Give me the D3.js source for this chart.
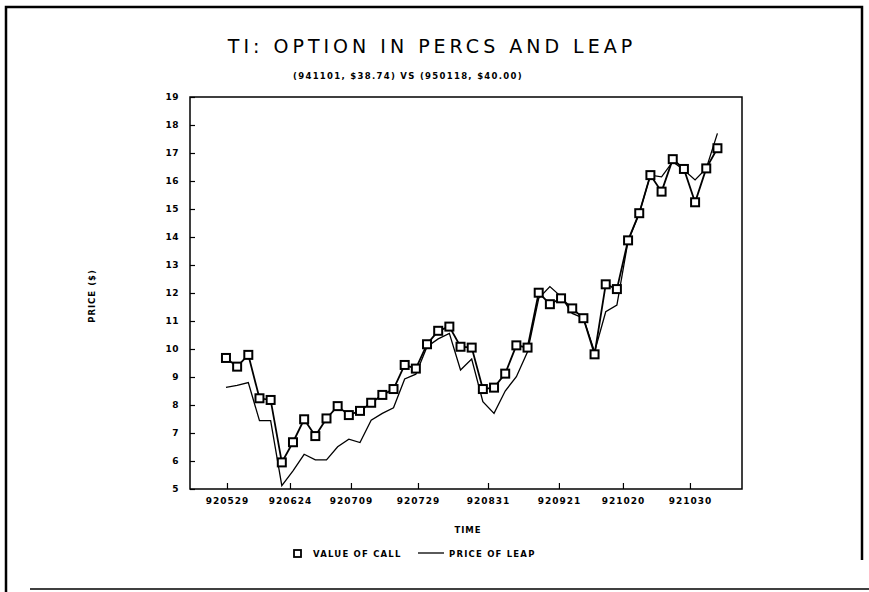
<!DOCTYPE html>
<html><head><meta charset="utf-8">
<script src="https://cdn.jsdelivr.net/npm/d3@7"></script>
<style>body{margin:0;background:#fff}svg{display:block}text{font-family:"DejaVu Sans",sans-serif;fill:#000}</style>
</head><body>
<script>
const callValues = [9.68,9.37,9.79,8.24,8.18,5.95,6.67,7.49,6.89,7.52,7.96,7.64,7.79,8.08,8.36,8.57,9.43,9.30,10.17,10.65,10.80,10.08,10.05,8.57,8.62,9.12,10.13,10.05,12.01,11.60,11.81,11.45,11.10,9.81,12.31,12.14,13.88,14.85,16.21,15.62,16.78,16.43,15.24,16.45,17.17];
const leapValues = [8.63,8.70,8.80,7.44,7.44,5.12,5.65,6.24,6.04,6.04,6.51,6.78,6.66,7.46,7.70,7.90,8.93,9.10,10.08,10.36,10.56,9.25,9.64,8.12,7.70,8.50,9.01,9.90,11.81,12.23,11.87,11.27,11.10,9.90,11.33,11.57,13.86,14.85,16.21,16.15,16.69,16.39,16.04,16.45,17.70];
const xTickPositions = [0.09,5.73,11.19,17.19,23.46,29.81,35.54,41.54];
const xTickLabels = ["920529","920624","920709","920729","920831","920921","921020","921030"];
const yTicks = [5,6,7,8,9,10,11,12,13,14,15,16,17,18,19];

const W=869,H=592;
const svg=d3.select("body").append("svg").attr("width",W).attr("height",H);
// outer frame
svg.append("path").attr("d","M6,592 L6,7 L862,7 L862,560").attr("fill","none").attr("stroke","#000").attr("stroke-width",2.5);
svg.append("line").attr("x1",30).attr("x2",869).attr("y1",589).attr("y2",589).attr("stroke","#000").attr("stroke-width",1.5);

const L=190,R=742,T=97,B=489;
const x=d3.scaleLinear().domain([-3.22,46.2]).range([L,R]);
const y=d3.scaleLinear().domain([5,19]).range([B,T]);

svg.append("rect").attr("x",L).attr("y",T).attr("width",R-L).attr("height",B-T).attr("fill","none").attr("stroke","#000").attr("stroke-width",1.5);

const yAxis=svg.append("g").attr("transform",`translate(${L},0)`)
  .call(d3.axisLeft(y).tickValues(yTicks).tickSize(-5).tickPadding(11).tickFormat(d3.format("d")));
yAxis.select(".domain").remove();
yAxis.selectAll("text").style("font-size","9px").style("font-weight","bold").style("letter-spacing","0.5px");
yAxis.selectAll("line").attr("stroke-width",1.2);

const xAxis=svg.append("g").attr("transform",`translate(0,${B})`)
  .call(d3.axisBottom(x).tickValues(xTickPositions).tickSize(-6).tickPadding(9).tickFormat((d,i)=>xTickLabels[i]));
xAxis.select(".domain").remove();
xAxis.selectAll("text").style("font-size","9px").style("font-weight","bold").style("letter-spacing","1px");
xAxis.selectAll("line").attr("stroke-width",1.2);

const line=d3.line().x((d,i)=>x(i)).y(d=>y(d));
svg.append("path").datum(leapValues).attr("d",line).attr("fill","none").attr("stroke","#000").attr("stroke-width",1.3);
svg.append("path").datum(callValues).attr("d",line).attr("fill","none").attr("stroke","#000").attr("stroke-width",1.8);
svg.selectAll("rect.m").data(callValues).join("rect").attr("class","m")
  .attr("x",(d,i)=>x(i)-4).attr("y",d=>y(d)-4).attr("width",8).attr("height",8)
  .attr("fill","#fff").attr("stroke","#000").attr("stroke-width",2);

// titles
svg.append("text").attr("x",432).attr("y",53).attr("text-anchor","middle")
  .style("font-size","19px").style("letter-spacing","4px").text("TI:  OPTION  IN  PERCS  AND  LEAP");
svg.append("text").attr("x",408).attr("y",79).attr("text-anchor","middle")
  .style("font-size","8.5px").style("font-weight","bold").style("letter-spacing","1.3px").text("(941101, $38.74) VS  (950118, $40.00)");
svg.append("text").attr("transform","translate(95,296) rotate(-90)").attr("text-anchor","middle")
  .style("font-size","8.5px").style("font-weight","bold").style("letter-spacing","1px").text("PRICE ($)");
svg.append("text").attr("x",468).attr("y",533).attr("text-anchor","middle")
  .style("font-size","8.5px").style("font-weight","bold").style("letter-spacing","1px").text("TIME");
// legend
const lg=svg.append("g");
lg.append("rect").attr("x",294).attr("y",550).attr("width",7).attr("height",7).attr("fill","#fff").attr("stroke","#000").attr("stroke-width",1.8);
lg.append("text").attr("x",313).attr("y",557).style("font-size","8.5px").style("font-weight","bold").style("letter-spacing","1.2px").text("VALUE OF CALL");
lg.append("line").attr("x1",418).attr("x2",444).attr("y1",553).attr("y2",553).attr("stroke","#000").attr("stroke-width",1.3);
lg.append("text").attr("x",449).attr("y",557).style("font-size","8.5px").style("font-weight","bold").style("letter-spacing","1.2px").text("PRICE OF LEAP");
</script>
</body></html>
